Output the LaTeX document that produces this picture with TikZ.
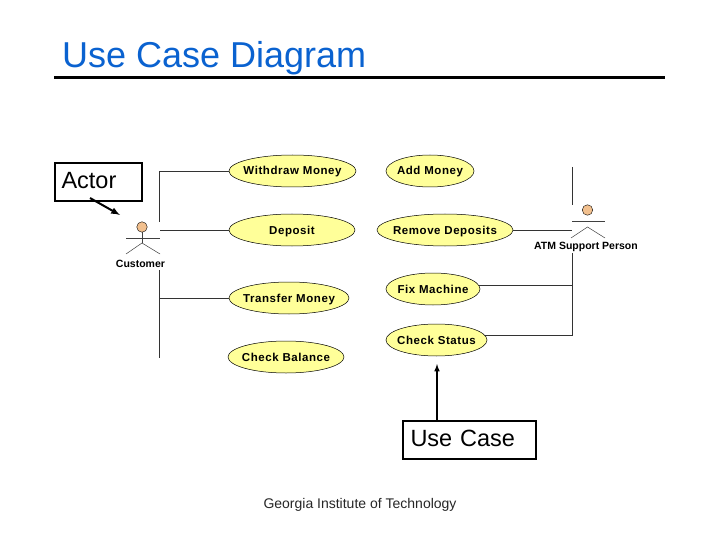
\documentclass[tikz,border=0pt]{standalone}
\usepackage{fontspec}
\setmainfont{Liberation Sans}
\newfontfamily\ucfont[LetterSpace=5]{Liberation Sans}
\usetikzlibrary{shapes.geometric}
\definecolor{titleblue}{HTML}{0A62D0}
\definecolor{ucyellow}{HTML}{FFFF99}
\definecolor{headskin}{HTML}{F2C08E}
\begin{document}
\begin{tikzpicture}[
        x=1pt, y=-1pt,
        uc-elm/.style = {draw, ellipse, fill=ucyellow, line width=0.5pt, inner xsep=-12pt, inner ysep=0pt, text height=8pt, text depth=0pt, minimum height=32pt, font=\ucfont\bfseries\fontsize{11.5}{11.5}\selectfont},
        call-box/.style = {draw, line width=2pt, rectangle, inner sep=0pt, minimum height=38pt, text depth=3pt, font=\fontsize{23.5}{23.5}\selectfont, text width=#1, align=left},
        act-lbl/.style = {inner sep=0pt, font=\bfseries\fontsize{10.5}{10.5}\selectfont},
        act-line/.style = {line width=0.5pt, draw=black!75},
        link/.style = {line width=0.6pt, draw=black!80}
      ]
        \useasboundingbox (0,0) rectangle (720,540);

        \node[anchor=west, inner sep=0pt, text=titleblue, font=\fontsize{36}{36}\selectfont] (title) at (62,58) {Use Case Diagram};
        \coordinate (rule-l) at (54,78);
        \coordinate (rule-r) at (665,78);
        \draw[line width=3pt] (rule-l) -- (rule-r);

        % use cases, left column
        \node[uc-elm, minimum width=127pt] (withdraw) at (292.5,171) {Withdraw Money};
        \node[uc-elm, minimum width=126pt] (deposit) at (292,230) {Deposit};
        \node[uc-elm, minimum width=120pt] (transfer) at (289,298) {Transfer Money};
        \node[uc-elm, minimum width=116pt] (balance) at (286,357) {Check Balance};

        % use cases, right column
        \node[uc-elm, minimum width=88pt] (addmoney) at (430,171) {Add Money};
        \node[uc-elm, minimum width=136pt] (remove) at (445,230) {Remove Deposits};
        \node[uc-elm, minimum width=94pt] (fix) at (433,289) {Fix Machine};
        \node[uc-elm, minimum width=101pt] (status) at (436.5,340) {Check Status};

        % customer
        \node[circle, draw, fill=headskin, minimum size=10.5pt, inner sep=0pt, line width=0.4pt] (cust-head) at (142,227) {};
        \coordinate (cust-hip) at (142,243);
        \coordinate (cust-arm-l) at (126,238);
        \coordinate (cust-arm-r) at (160,238);
        \coordinate (cust-foot-l) at (126,254);
        \coordinate (cust-foot-r) at (160,254);
        \draw[act-line] (cust-head) -- (cust-hip);
        \draw[act-line] (cust-arm-l) -- (cust-arm-r);
        \draw[act-line] (cust-foot-l) -- (cust-hip) -- (cust-foot-r);
        \node[act-lbl] (cust-lbl) at (140.5,263.5) {Customer};

        % support person
        \node[circle, draw, fill=headskin, minimum size=10.5pt, inner sep=0pt, line width=0.4pt] (atm-head) at (587.5,210) {};
        \coordinate (atm-arm-l) at (572,221);
        \coordinate (atm-arm-r) at (605,221);
        \coordinate (atm-hip) at (587.5,227);
        \coordinate (atm-foot-l) at (571,238);
        \coordinate (atm-foot-r) at (605,238);
        \draw[act-line] (atm-arm-l) -- (atm-arm-r);
        \draw[act-line] (atm-foot-l) -- (atm-hip) -- (atm-foot-r);
        \node[act-lbl] (atm-lbl) at (586,246.5) {ATM Support Person};

        % customer links
        \coordinate (c-top) at (159.5,222);
        \coordinate (c-mid) at (160,230);
        \coordinate (c-low) at (159.5,270);
        \coordinate (c-end) at (159.5,358);
        \draw[link] (c-top) |- (withdraw.west);
        \draw[link] (c-mid) -- (deposit.west);
        \draw[link] (c-low) -- (c-end);
        \draw[link] (c-low |- transfer.west) -- (transfer.west);

        % support person links
        \coordinate (a-top) at (572,167);
        \coordinate (a-end) at (572,205);
        \coordinate (a-mid) at (572,230);
        \coordinate (a-low) at (572,253);
        \coordinate (a-fix) at (fix.5 -| a-top);
        \coordinate (a-status) at (status.5 -| a-top);
        \draw[link] (a-top) -- (a-end);
        \draw[link] (remove.east) -- (a-mid);
        \draw[link] (a-low) -- (a-status);
        \draw[link] (fix.5) -- (a-fix);
        \draw[link] (status.5) -- (a-status);

        % callouts
        \node[call-box=74pt, minimum width=87pt, anchor=north west, inner xsep=6.5pt] (actor) at (54,162) {Actor};
        \node[call-box=118pt, minimum width=133pt, anchor=north west, inner xsep=7pt] (usecase) at (402,420) {Use Case};
        \coordinate (actor-tail) at (90,198);
        \coordinate (actor-tip) at (120,215);
        \coordinate (usecase-tip) at (437,364);
        \draw[-latex, line width=2pt] (actor-tail) -- (actor-tip);
        \draw[-latex, line width=1.5pt] (usecase.north -| usecase-tip) -- (usecase-tip);

        \node[inner sep=0pt, font=\fontsize{14}{14}\selectfont, text=black!85] (footer) at (360,505) {Georgia Institute of Technology};
      \end{tikzpicture}
\end{document}
